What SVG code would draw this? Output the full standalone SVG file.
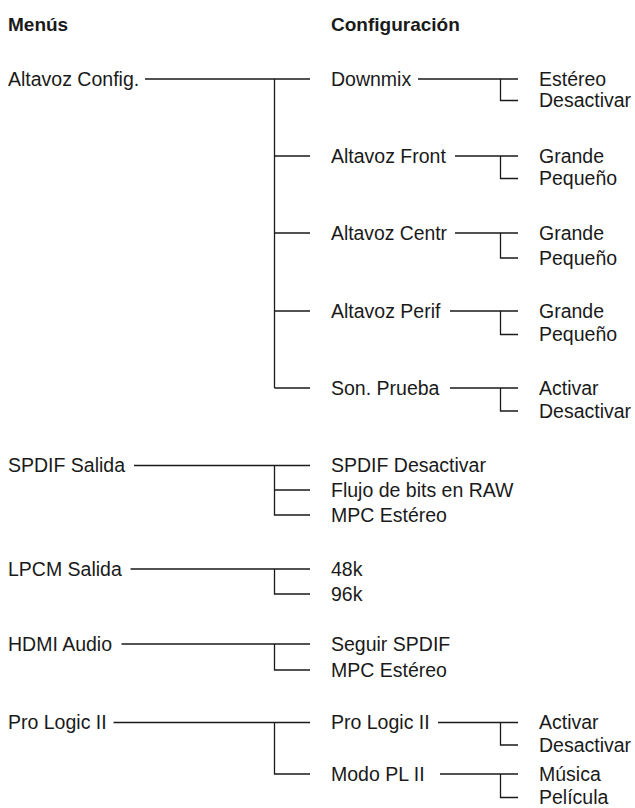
<svg xmlns="http://www.w3.org/2000/svg" width="635" height="808" viewBox="0 0 635 808">
<style>
text{font-family:"Liberation Sans",Arial,sans-serif;font-size:19.5px;fill:#1a1a1a}
.h{font-weight:bold;font-size:19px}
.c path{fill:none;stroke:#1a1a1a;stroke-width:1.3}
</style>
<rect width="635" height="808" fill="#fff"/>
<g id="headers">
<text class="h" x="8" y="31">Menús</text>
<text class="h" x="331" y="31">Configuración</text>
</g>
<g class="c" id="connectors">
<path d="M145 79H310M274.5 79V388M274.5 156H310M274.5 233H310M274.5 311H310M274.5 388H310"/>
<path d="M418 79H518M500.5 79V100.5H518"/>
<path d="M455 156H518M500.5 156V178.5H518"/>
<path d="M455 233H518M500.5 233V258H518"/>
<path d="M450 311H518M500.5 311V334.5H518"/>
<path d="M450 388H518M500.5 388V411H518"/>
<path d="M134 465.5H310M274.5 465.5V515H310M274.5 490H310"/>
<path d="M130.5 569H310M274.5 569V594H310"/>
<path d="M121.5 644H310M274.5 644V670H310"/>
<path d="M113.5 722.5H310M274.5 722.5V774H310"/>
<path d="M438 722.5H518M500.5 722.5V745H518"/>
<path d="M440 774H518M500.5 774V797.5H518"/>
</g>
<g id="altavoz-config"><text x="8" y="85.5">Altavoz Config.</text></g>
<g id="downmix"><text x="331" y="85.5">Downmix</text><text x="539" y="85.5">Estéreo</text><text x="539" y="107">Desactivar</text></g>
<g id="altavoz-front"><text x="331" y="162.5">Altavoz Front</text><text x="539" y="162.5">Grande</text><text x="539" y="185">Pequeño</text></g>
<g id="altavoz-centr"><text x="331" y="239.5" textLength="116" lengthAdjust="spacingAndGlyphs">Altavoz Centr</text><text x="539" y="239.5">Grande</text><text x="539" y="264.5">Pequeño</text></g>
<g id="altavoz-perif"><text x="331" y="317.5">Altavoz Perif</text><text x="539" y="317.5">Grande</text><text x="539" y="341">Pequeño</text></g>
<g id="son-prueba"><text x="331" y="394.5">Son. Prueba</text><text x="539" y="394.5">Activar</text><text x="539" y="417.5">Desactivar</text></g>
<g id="spdif-salida"><text x="8" y="472">SPDIF Salida</text><text x="331" y="472">SPDIF Desactivar</text><text x="331" y="496.5">Flujo de bits en RAW</text><text x="331" y="521.5">MPC Estéreo</text></g>
<g id="lpcm-salida"><text x="8" y="575.5">LPCM Salida</text><text x="331" y="575.5">48k</text><text x="331" y="600.5">96k</text></g>
<g id="hdmi-audio"><text x="8" y="650.5">HDMI Audio</text><text x="331" y="650.5">Seguir SPDIF</text><text x="331" y="676.5">MPC Estéreo</text></g>
<g id="pro-logic"><text x="8" y="729">Pro Logic II</text></g>
<g id="pro-logic-sub"><text x="331" y="729">Pro Logic II</text><text x="539" y="729">Activar</text><text x="539" y="751.5">Desactivar</text></g>
<g id="modo-pl"><text x="331" y="780.5">Modo PL II</text><text x="539" y="780.5">Música</text><text x="539" y="804">Película</text></g>
</svg>
